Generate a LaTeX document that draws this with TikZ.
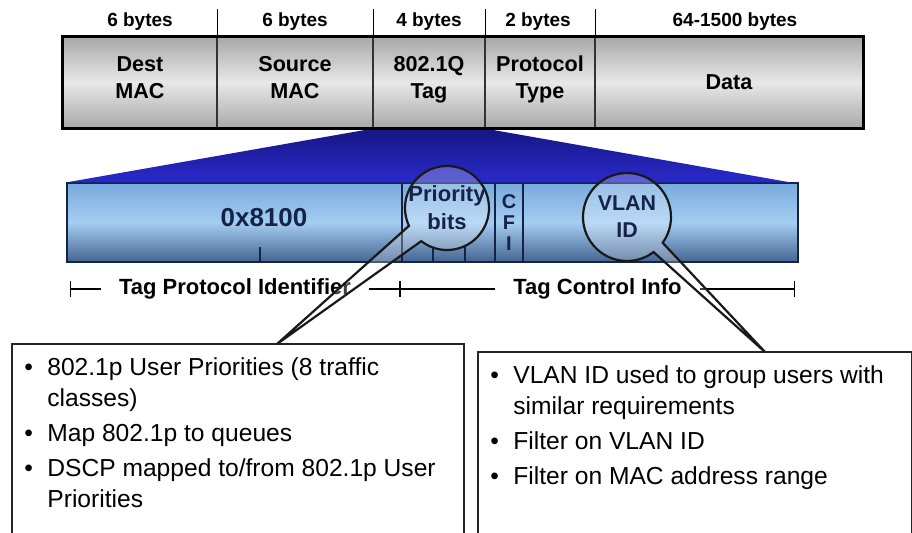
\documentclass[tikz,border=0pt]{standalone}
\usepackage{fontspec}
\setmainfont{Liberation Sans}
\usetikzlibrary{arrows.meta,shapes.callouts}
\definecolor{navy}{RGB}{20,35,70}
\definecolor{cellgray}{RGB}{168,168,168}
\definecolor{celllight}{RGB}{232,232,232}
\definecolor{tagdark}{RGB}{22,22,130}
\definecolor{tagblue}{RGB}{42,42,205}
\definecolor{barlight}{RGB}{165,205,242}
\definecolor{bartop}{RGB}{120,170,220}
\definecolor{bardark}{RGB}{68,100,145}
\newcommand\bitem{\par\hangindent=11.5pt\hangafter=1\noindent\hbox to 11.5pt{\textbullet\hfil}}
\newcommand\brk{\hfil\break}
\newcommand\notebox[2]{\parbox[t]{#1}{\raggedright\setlength\parskip{2pt}#2\par}}
\tikzset{
  cell/.style={draw=black!80, line width=0.7pt, top color=cellgray, bottom color=cellgray, middle color=celllight, minimum height=45.5pt, inner sep=0pt, text depth=5pt, align=center, font=\bfseries\fontsize{10.8}{13.5}\selectfont},
  bytes/.style={anchor=base, font=\bfseries\fontsize{9.5}{11}\selectfont},
  field/.style={draw=navy, line width=0.6pt, top color=bartop, bottom color=bardark, middle color=barlight, minimum height=39.5pt, inner sep=0pt, align=center, text=navy, font=\bfseries\fontsize{10}{10.6}\selectfont},
  bubble/.style={ellipse callout, draw=black!90, line width=1.1pt, fill=white, fill opacity=0.25, inner sep=0pt},
  bubtext/.style={align=center, text=navy, font=\bfseries\fontsize{11}{14}\selectfont},
  dim/.style={line width=0.7pt, {Bar[width=8pt]}-{Bar[width=8pt]}},
  dimtext/.style={fill=white, inner xsep=9pt, inner ysep=1pt, font=\bfseries\fontsize{11}{13}\selectfont},
  notes/.style={anchor=north west, inner xsep=6pt, inner ysep=6.4pt, font=\fontsize{12.3}{15.5}\selectfont},
  frame/.style={draw=black!85, line width=1pt}
}
\begin{document}
\begin{tikzpicture}[x=0.5pt,y=-0.5pt]
\path[use as bounding box, fill=white] (0,0) rectangle (912,533);

\node[cell, minimum width=77pt] (dst) at (140,82.5) {Dest\\MAC};
\node[cell, minimum width=78pt] (src) at (295,82.5) {Source\\MAC};
\node[cell, minimum width=56pt] (tag) at (429,82.5) {802.1Q\\Tag};
\node[cell, minimum width=55pt] (ptype) at (540,82.5) {Protocol\\Type};
\node[cell, minimum width=134pt, text depth=0pt] (data) at (729,82.5) {Data};

\node[bytes] (dstb) at (140,27) {6 bytes};
\node[bytes] (srcb) at (295,27) {6 bytes};
\node[bytes] (tagb) at (429,27) {4 bytes};
\node[bytes] (ptypeb) at (538,27) {2 bytes};
\node[bytes] (datab) at (735,27) {64-1500 bytes};
\foreach \c in {dst,src,tag,ptype}
  \draw[line width=0.5pt] (\c.north east) -- ++(0,-27);

\node[field, minimum width=167.5pt] (tpid) at (234.5,222.5) {};
\node[field, minimum width=46.5pt] (pri) at (448.5,222.5) {};
\node[field, minimum width=14pt, text depth=-2pt] (cfi) at (509,222.5) {C\\F\\I};
\node[field, minimum width=137.5pt] (vid) at (660.5,222.5) {};

\shade[top color=tagdark, bottom color=tagblue] (tag.south west) -- (tag.south east) -- ([xshift=-4pt]vid.north east) -- (tpid.north west) -- cycle;
\draw[line width=1.5pt] (dst.north west) rectangle (data.south east);

\node[text=navy, font=\bfseries\fontsize{13}{15}\selectfont] (hex) at (264,218) {0x8100};
\foreach \x in {260,433,465}
  \draw[navy, line width=0.6pt] (\x,262) -- ++(0,-15);

\coordinate (tpidL) at (70,289);
\coordinate (tciM) at (400,289);
\coordinate (tciR) at (795,289);
\draw[dim] (tpidL) -- (tciM) node[dimtext, midway] (tpidlab) {Tag Protocol Identifier};
\draw[dim] (tciM) -- (tciR) node[dimtext, midway] (tcilab) {Tag Control Info};

\node[notes] (prionotes) at (12,344) {\notebox{213.5pt}{\bitem 802.1p User Priorities (8 traffic\brk classes)\bitem Map 802.1p to queues\bitem DSCP mapped to/from 802.1p User\brk Priorities}};
\node[notes] (vlannotes) at (478,352) {\notebox{204.5pt}{\bitem VLAN ID used to group users with\brk similar requirements\bitem Filter on VLAN ID\bitem Filter on MAC address range}};
\draw[frame] ([yshift=-110pt]prionotes.north west) -- (prionotes.north west) -- (prionotes.north east) -- ([yshift=-110pt]prionotes.north east);
\draw[frame] ([yshift=-110pt]vlannotes.north west) -- (vlannotes.north west) -- (vlannotes.north east) -- ([yshift=-110pt]vlannotes.north east);

\coordinate (tipL) at (277,344);
\coordinate (tipR) at (765,352);
\node[bubble, minimum size=42pt, callout absolute pointer={(tipL)}, callout pointer arc=27] (prio) at (447,208) {};
\node[bubble, minimum size=44pt, callout absolute pointer={(tipR)}, callout pointer arc=17] (vlan) at (627,217) {};
\node[bubtext] (priotext) at (prio) {Priority\\bits};
\node[bubtext, font=\bfseries\fontsize{10.7}{13.5}\selectfont] (vlantext) at (vlan) {VLAN\\ID};

\end{tikzpicture}
\end{document}
